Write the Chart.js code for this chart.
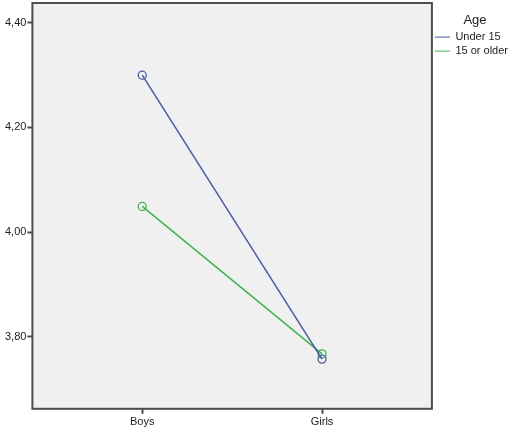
<!DOCTYPE html>
<html>
<head>
<meta charset="utf-8">
<script src="https://cdn.jsdelivr.net/npm/chart.js@4.4.1/dist/chart.umd.min.js"></script>
<style>
  html, body { margin: 0; padding: 0; background: #fff; }
  #wrap { width: 510px; height: 432px; }
</style>
</head>
<body>
<div id="wrap"><canvas id="myChart"></canvas></div>
<script>
const categories = ['Boys', 'Girls'];
const under15 = [4.300, 3.757];
const older15 = [4.049, 3.767];
const yTicks = [3.80, 4.00, 4.20, 4.40];

Chart.defaults.font.family = 'Arial, "Liberation Sans", sans-serif';
Chart.defaults.color = '#222';

// grey plot background with a dark frame
const plotFrame = {
	id: 'plotFrame',
	beforeDatasetsDraw(chart) {
		const a = chart.chartArea;
		const ctx = chart.ctx;
		ctx.save();
		ctx.fillStyle = '#f0f0f0';
		ctx.fillRect(a.left, a.top, a.right - a.left, a.bottom - a.top);
		ctx.strokeStyle = '#4d4d4d';
		ctx.lineWidth = 2;
		ctx.strokeRect(a.left, a.top, a.right - a.left, a.bottom - a.top);
		ctx.restore();
	}
};

const data = {
	datasets: [{
		label: 'Under 15',
		data: under15.map((v, i) => ({x: i, y: v})),
		borderColor: '#4a5aa6',
		backgroundColor: '#4a5aa6',
		borderWidth: 1.5,
		pointRadius: 4,
		pointBorderWidth: 1.3,
		pointBackgroundColor: 'rgba(0,0,0,0)',
		pointBorderColor: '#4a5aa6'
	}, {
		label: '15 or older',
		data: older15.map((v, i) => ({x: i, y: v})),
		borderColor: '#3cb44b',
		backgroundColor: '#3cb44b',
		borderWidth: 1.5,
		pointRadius: 4,
		pointBorderWidth: 1.3,
		pointBackgroundColor: 'rgba(0,0,0,0)',
		pointBorderColor: '#3cb44b'
	}]
};

const config = {
	type: 'line',
	data: data,
	plugins: [plotFrame],
	options: {
		responsive: true,
		maintainAspectRatio: false,
		animation: false,
		layout: { autoPadding: false, padding: { left: 4, top: 3, right: -8, bottom: 1 } },
		plugins: {
			tooltip: { enabled: false },
			legend: {
				position: 'right',
				align: 'start',
				title: { display: true, text: 'Age', font: { size: 13 }, padding: { top: 11, bottom: -1 } },
				labels: {
					boxWidth: 15,
					boxHeight: 1,
					padding: 3,
					font: { size: 11 },
					color: '#222',
					generateLabels(chart) {
						return chart.data.datasets.map((ds, i) => ({
							text: ds.label,
							fillStyle: ds.borderColor,
							strokeStyle: ds.borderColor,
							lineWidth: 0,
							datasetIndex: i
						}));
					}
				}
			}
		},
		scales: {
			x: {
				type: 'linear',
				min: -0.611,
				max: 1.611,
				afterBuildTicks(scale) {
					scale.ticks = categories.map((c, i) => ({value: i}));
				},
				ticks: {
					callback: (v) => categories[v],
					font: { size: 11 },
					color: '#222',
					padding: 2
				},
				grid: {
					drawOnChartArea: false,
					drawTicks: true,
					tickLength: 5,
					tickWidth: 2,
					tickColor: '#4d4d4d'
				},
				border: { display: false }
			},
			y: {
				min: 3.662,
				max: 4.438,
				afterBuildTicks(scale) {
					scale.ticks = yTicks.map(v => ({value: v}));
				},
				afterFit(scale) {
					scale.paddingTop = 0;
					scale.paddingBottom = 0;
				},
				ticks: {
					callback: (v) => v.toFixed(2).replace('.', ','),
					font: { size: 11 },
					color: '#222',
					padding: 1
				},
				grid: {
					drawOnChartArea: false,
					drawTicks: true,
					tickLength: 5,
					tickWidth: 2,
					tickColor: '#4d4d4d'
				},
				border: { display: false }
			}
		}
	}
};

const myChart = new Chart(document.getElementById('myChart'), config);
</script>
</body>
</html>
